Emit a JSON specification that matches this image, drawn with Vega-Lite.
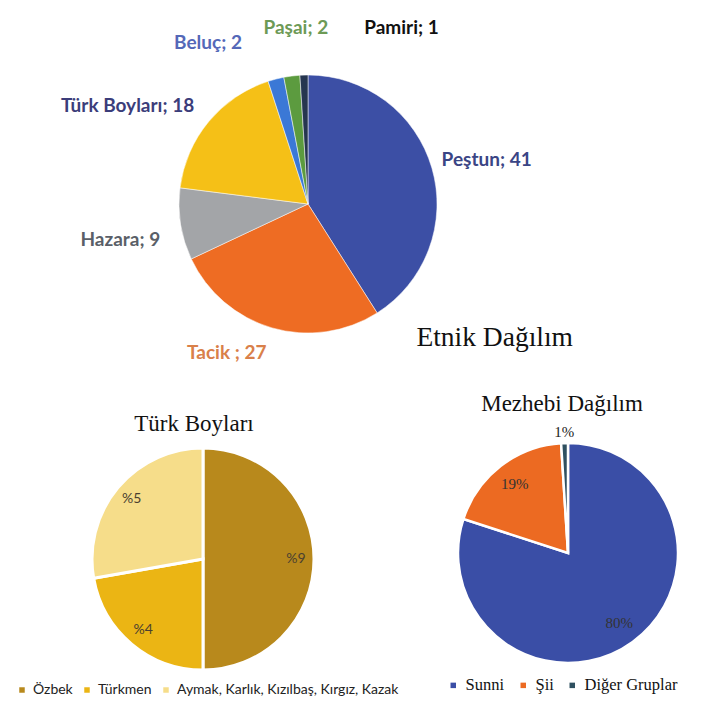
{
  "$schema": "https://vega.github.io/schema/vega-lite/v6.json",
  "background": "white",
  "padding": {"left": 0, "top": 11, "right": 0, "bottom": 0},
  "spacing": 109,
  "bounds": "flush",
  "config": {"view": {"stroke": null}},
  "resolve": {"scale": {"color": "independent"}},
  "vconcat": [
    {
      "width": 616,
      "height": 246,
      "data": {"values": [
        {"group": "Peştun", "value": 41, "order": 1, "label": "Peştun; 41"},
        {"group": "Tacik", "value": 27, "order": 2, "label": "Tacik ; 27"},
        {"group": "Hazara", "value": 9, "order": 3, "label": "Hazara; 9"},
        {"group": "Türk Boyları", "value": 18, "order": 4, "label": "Türk Boyları; 18"},
        {"group": "Beluç", "value": 2, "order": 5, "label": "Beluç; 2"},
        {"group": "Paşai", "value": 2, "order": 6, "label": "Paşai; 2"},
        {"group": "Pamiri", "value": 1, "order": 7, "label": "Pamiri; 1"}
      ]},
      "title": {"text": "Etnik Dağılım", "orient": "bottom", "anchor": "end", "offset": 0, "dy": -95, "dx": -43, "font": "Liberation Serif", "fontSize": 27.5, "fontWeight": "normal", "color": "#111111"},
      "encoding": {
        "theta": {"field": "value", "type": "quantitative", "stack": true},
        "order": {"field": "order", "type": "quantitative"}
      },
      "layer": [
        {
          "mark": {"type": "arc", "outerRadius": 129, "stroke": "#ffffff", "strokeWidth": 0.5},
          "encoding": {"color": {"field": "group", "type": "nominal", "legend": null,
            "scale": {"domain": ["Peştun", "Tacik", "Hazara", "Türk Boyları", "Beluç", "Paşai", "Pamiri"],
                      "range": ["#3c4fa5", "#ee6c23", "#a3a5a8", "#f5c017", "#3b78d6", "#5c9b3f", "#263650"]}}}
        },
        {"mark": {"type": "text", "radius": 185, "dx": 1, "dy": 8, "font": "Lato", "fontSize": 19, "fontWeight": "bold", "fill": "#3a4585"},
         "encoding": {"text": {"condition": {"test": "datum.group === 'Peştun'", "field": "label"}, "value": ""}}},
        {"mark": {"type": "text", "radius": 155, "dx": -38, "dy": 0, "font": "Lato", "fontSize": 19, "fontWeight": "bold", "fill": "#d9804a"},
         "encoding": {"text": {"condition": {"test": "datum.group === 'Tacik'", "field": "label"}, "value": ""}}},
        {"mark": {"type": "text", "radius": 190, "dx": 0, "dy": 6, "font": "Lato", "fontSize": 19, "fontWeight": "bold", "fill": "#5a5f68"},
         "encoding": {"text": {"condition": {"test": "datum.group === 'Hazara'", "field": "label"}, "value": ""}}},
        {"mark": {"type": "text", "radius": 190, "dx": -34, "dy": 23, "font": "Lato", "fontSize": 19, "fontWeight": "bold", "fill": "#3b3d7a"},
         "encoding": {"text": {"condition": {"test": "datum.group === 'Türk Boyları'", "field": "label"}, "value": ""}}},
        {"mark": {"type": "text", "radius": 165, "dx": -59, "dy": -1, "font": "Lato", "fontSize": 19, "fontWeight": "bold", "fill": "#5468b8"},
         "encoding": {"text": {"condition": {"test": "datum.group === 'Beluç'", "field": "label"}, "value": ""}}},
        {"mark": {"type": "text", "radius": 177, "dx": 10, "dy": 0, "font": "Lato", "fontSize": 19, "fontWeight": "bold", "fill": "#6d9a56"},
         "encoding": {"text": {"condition": {"test": "datum.group === 'Paşai'", "field": "label"}, "value": ""}}},
        {"mark": {"type": "text", "radius": 176, "dx": 99, "dy": 0, "font": "Lato", "fontSize": 19, "fontWeight": "bold", "fill": "#111111"},
         "encoding": {"text": {"condition": {"test": "datum.group === 'Pamiri'", "field": "label"}, "value": ""}}}
      ]
    },
    {
      "spacing": 17,
      "bounds": "flush",
      "resolve": {"scale": {"color": "independent"}},
      "hconcat": [
        {
          "width": 406,
          "height": 246,
          "data": {"values": [
            {"group": "Özbek", "value": 9, "order": 1, "label": "%9"},
            {"group": "Türkmen", "value": 4, "order": 2, "label": "%4"},
            {"group": "Aymak, Karlık, Kızılbaş, Kırgız, Kazak", "value": 5, "order": 3, "label": "%5"}
          ]},
          "title": {"text": "Türk Boyları", "frame": "group", "font": "Liberation Serif", "fontSize": 23, "fontWeight": "normal", "color": "#111111", "offset": 0, "dx": -9},
          "encoding": {
            "theta": {"field": "value", "type": "quantitative", "stack": true},
            "order": {"field": "order", "type": "quantitative"}
          },
          "layer": [
            {
              "mark": {"type": "arc", "outerRadius": 111, "stroke": "#ffffff", "strokeWidth": 3},
              "encoding": {"color": {"field": "group", "type": "nominal",
                "scale": {"domain": ["Özbek", "Türkmen", "Aymak, Karlık, Kızılbaş, Kırgız, Kazak"], "range": ["#b8891c", "#ebb514", "#f6dd8a"]},
                "legend": {"orient": "none", "legendX": 15, "legendY": 247, "direction": "horizontal", "title": null, "symbolType": "square", "symbolSize": 30, "symbolStrokeWidth": 0,
                           "labelFont": "Lato", "labelFontSize": 14, "labelColor": "#222222", "columnPadding": 7, "labelLimit": 400}}}
            },
            {"mark": {"type": "text", "radius": 93, "font": "Lato", "fontSize": 14, "fill": "#4a4030"},
             "encoding": {"text": {"field": "label"}}}
          ]
        },
        {
          "width": 290,
          "height": 234,
          "data": {"values": [
            {"group": "Sunni", "value": 80, "order": 1, "label": "80%"},
            {"group": "Şii", "value": 19, "order": 2, "label": "19%"},
            {"group": "Diğer Gruplar", "value": 1, "order": 3, "label": "1%"}
          ]},
          "title": {"text": "Mezhebi Dağılım", "frame": "group", "font": "Liberation Serif", "fontSize": 23, "fontWeight": "normal", "color": "#111111", "offset": 9, "dx": -6},
          "encoding": {
            "theta": {"field": "value", "type": "quantitative", "stack": true},
            "order": {"field": "order", "type": "quantitative"}
          },
          "layer": [
            {
              "mark": {"type": "arc", "outerRadius": 110, "stroke": "#ffffff", "strokeWidth": 2.5},
              "encoding": {"color": {"field": "group", "type": "nominal",
                "scale": {"domain": ["Sunni", "Şii", "Diğer Gruplar"], "range": ["#3a4ea6", "#ec6a22", "#2f5060"]},
                "legend": {"orient": "none", "legendX": 22, "legendY": 241, "direction": "horizontal", "title": null, "symbolType": "square", "symbolSize": 30, "symbolStrokeWidth": 0,
                           "labelFont": "Liberation Serif", "labelFontSize": 16.5, "labelColor": "#111111", "columnPadding": 10}}}
            },
            {"mark": {"type": "text", "radius": 87, "font": "Liberation Serif", "fontSize": 15, "fill": "#333333"},
             "encoding": {"text": {"condition": {"test": "datum.group !== 'Diğer Gruplar'", "field": "label"}, "value": ""}}},
            {"mark": {"type": "text", "radius": 121, "font": "Liberation Serif", "fontSize": 15, "fill": "#222222"},
             "encoding": {"text": {"condition": {"test": "datum.group === 'Diğer Gruplar'", "field": "label"}, "value": ""}}}
          ]
        }
      ]
    }
  ]
}
